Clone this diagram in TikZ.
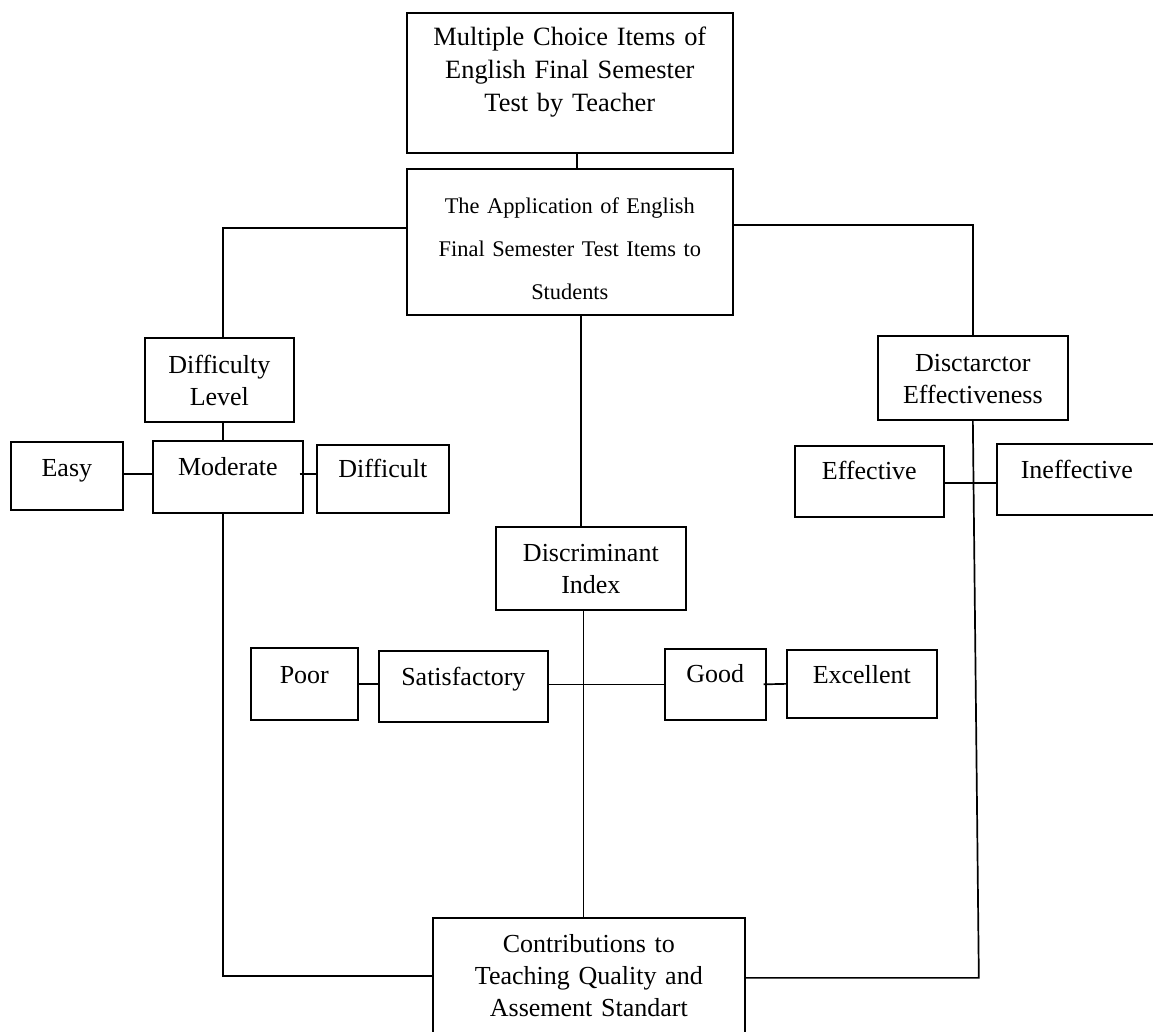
\documentclass[tikz,border=0pt]{standalone}
\usepackage{fontspec}
\setmainfont{Liberation Serif}
\usetikzlibrary{calc}
\tikzset{
  box/.style={draw, line width=0.85pt, inner sep=0pt, align=center, anchor=north west},
  fbig/.style={font=\fontsize{13.2}{16.5}\selectfont},
  fmid/.style={font=\fontsize{13}{16}\selectfont},
  fapp/.style={font=\fontsize{11.2}{21.5}\selectfont},
  link/.style={draw, line width=0.85pt},
}
% name, left, top, right, bottom, first baseline, font style, text  (pixel units)
\newcommand\mkbox[8]{%
  \pgfmathsetmacro\boxW{(#4-#2)*0.5}%
  \pgfmathsetmacro\boxH{(#6-#3)*0.5}%
  \pgfmathsetmacro\boxD{(#5-#6)*0.5}%
  \node[box,#7,text width=\boxW pt,text height=\boxH pt,text depth=\boxD pt] (#1) at (#2,#3) {#8};}
\begin{document}
\begin{tikzpicture}[x=0.5pt,y=-0.5pt]
\useasboundingbox (0,0) rectangle (1153,1032);
\clip (0,0) rectangle (1153,1032);

\mkbox{top}{406}{12}{732}{152}{45}{fbig}{Multiple Choice Items of\\English Final Semester\\Test by Teacher}
\mkbox{app}{406}{168}{732}{314}{213}{fapp}{The Application of English\\Final Semester Test Items to\\Students}
\mkbox{diff}{144}{337}{293}{421}{373}{fmid}{Difficulty\\Level}
\mkbox{dis}{877}{335}{1067}{419}{371}{fmid}{Disctarctor\\Effectiveness}
\mkbox{easy}{10}{441}{122}{509}{476}{fmid}{Easy}
\mkbox{mod}{152}{440}{302}{512}{475}{fmid}{Moderate}
\mkbox{dif}{316}{444}{448}{512}{477}{fmid}{Difficult}
\mkbox{eff}{794}{445}{943}{516}{479}{fmid}{Effective}
\mkbox{ineff}{996}{443}{1156}{514}{478}{fmid}{Ineffective}
\mkbox{disc}{495}{526}{685}{609}{561}{fmid}{Discriminant\\Index}
\mkbox{poor}{250}{647}{357}{719}{683}{fmid}{Poor}
\mkbox{sat}{378}{650}{547}{721}{685}{fmid}{Satisfactory}
\mkbox{good}{664}{648}{765}{719}{682}{fmid}{Good}
\mkbox{exc}{786}{649}{936}{717}{683}{fmid}{Excellent}
\mkbox{contr}{432}{917}{744}{1045}{952}{fmid}{Contributions to\\Teaching Quality and\\Assement Standart}

% connectors
\draw[link] ([xshift=3.5pt]top.south) -- ([xshift=3.5pt]top.south |- app.north);
\draw[link] ([yshift=7pt]app.west) -| ([xshift=1.75pt]diff.north);
\draw[link] ([yshift=8.5pt]app.east) -| (dis.north);
\draw[link] ([xshift=5.5pt]app.south) -- ([xshift=5.5pt]app.south |- disc.north);
\draw[link] ([xshift=1.75pt]diff.south) -- ([xshift=1.75pt]diff.south |- mod.north);
\draw[link] ([yshift=1pt]easy.east) -- ([yshift=1pt]easy.east -| mod.west);
\draw[link] ([xshift=-2pt,yshift=1.5pt]mod.east) -- ([yshift=1.5pt]mod.east -| dif.west);
\draw[link] ([xshift=-2.5pt]mod.south) |- ([yshift=3pt]contr.west);
\coordinate (rc) at ($(dis.south |- contr.east)+(3pt,2pt)$);
\draw[link] (dis.south) -- (rc) -- (rc -| contr.east);
\draw[link] ([yshift=-0.75pt]eff.east) -- ([yshift=-0.75pt]eff.east -| ineff.west);
\draw[link] ([xshift=-3.75pt]disc.south) -- ([xshift=-3.75pt]disc.south |- contr.north);
\draw[link] (poor.east) -- (poor.east -| sat.west);
\draw[link] ([yshift=1pt]sat.east) -- ([yshift=1pt]sat.east -| good.west);
\draw[link] ([xshift=-1.5pt]good.east) -- (exc.west);
\end{tikzpicture}
\end{document}
